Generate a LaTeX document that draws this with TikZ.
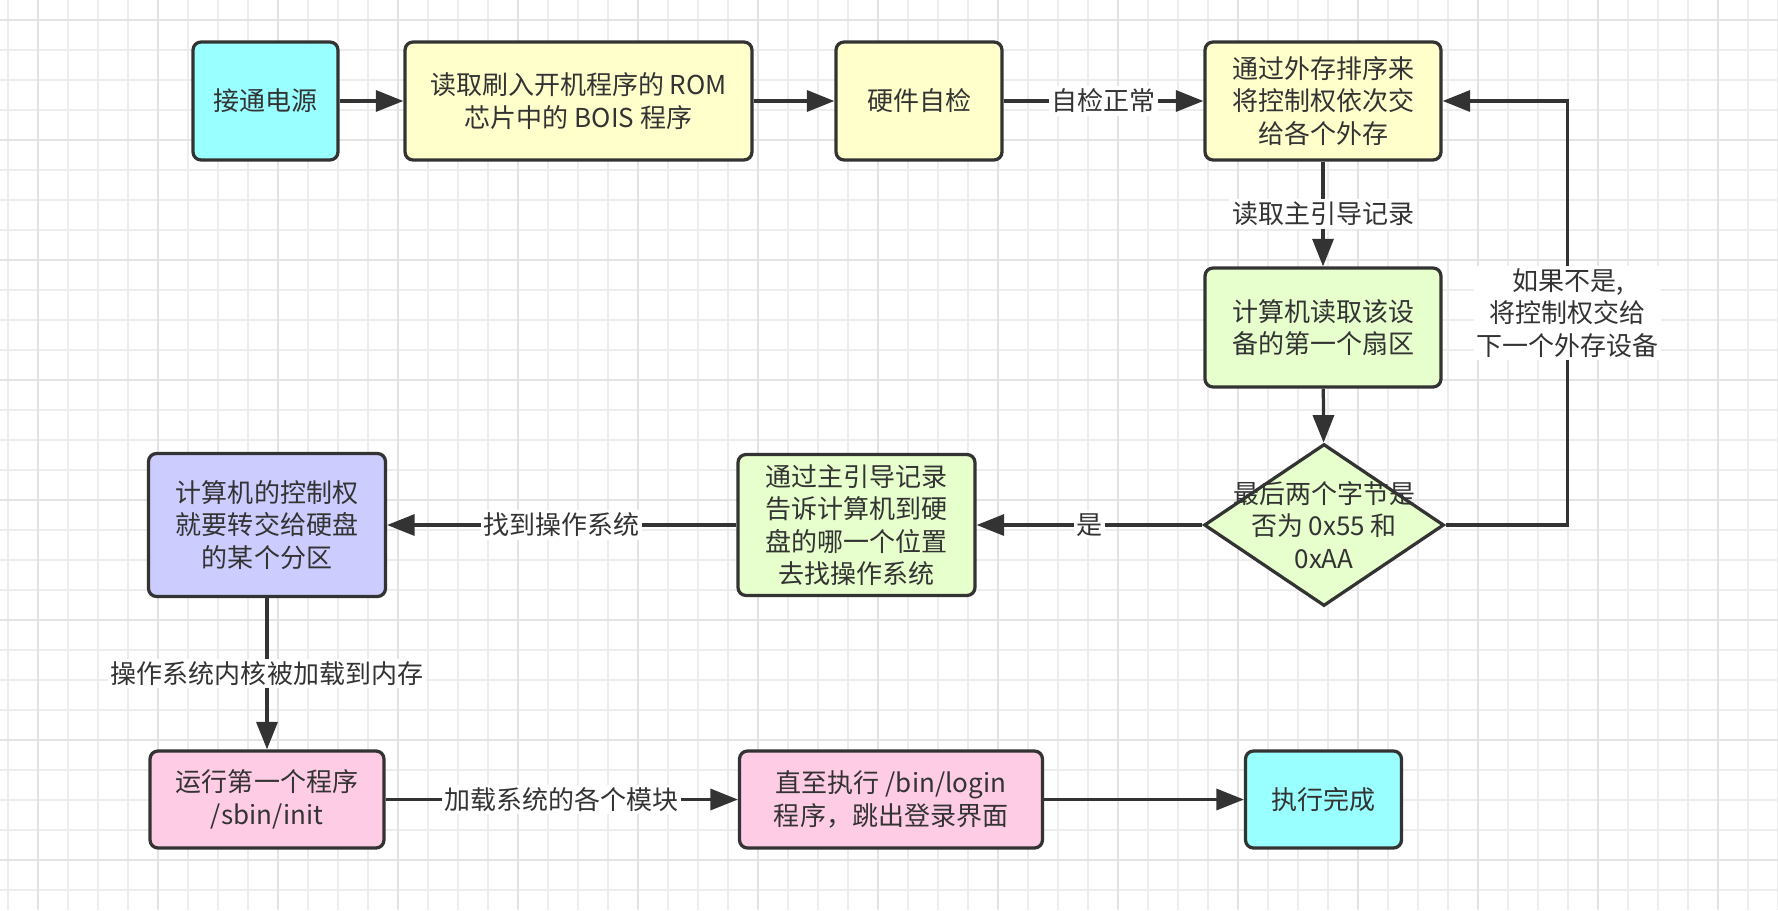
\documentclass[tikz,border=0pt]{standalone}
\usepackage{fontspec}
\newfontfamily\cjk{Noto Sans CJK SC}
\usepackage{xcolor}
\usetikzlibrary{arrows.meta,positioning,shapes.geometric}

\definecolor{ink}{HTML}{333333}
\definecolor{boxcyan}{HTML}{99FFFF}
\definecolor{boxyellow}{HTML}{FFFFCC}
\definecolor{boxgreen}{HTML}{E6FFCC}
\definecolor{boxblue}{HTML}{CCCCFF}
\definecolor{boxpink}{HTML}{FFCCE6}

\begin{document}
\begin{tikzpicture}[x=0.02cm,y=-0.02cm,
  font=\cjk\fontsize{14.8}{18.5}\selectfont,text=ink,
  box/.style={draw=ink,line width=0.065cm,rounded corners=0.16cm,align=center,inner sep=0pt},
  decision/.style={diamond,draw=ink,line width=0.065cm,fill=boxgreen,inner sep=0pt},
  flow/.style={draw=ink,line width=0.065cm,-{Triangle[length=0.55cm,width=0.42cm]}},
  tag/.style={fill=white,inner sep=1.5pt},
  gridminor/.style={draw=black!7,line width=0.03cm},
  gridmajor/.style={draw=black!11,line width=0.05cm}]
  \useasboundingbox (0,0) rectangle (1778,910);
  % background grid
  \fill[white] (0,0) rectangle (1778,910);
  \foreach \x in {8,38,...,1778} \draw[gridminor] (\x,0) -- (\x,910);
  \foreach \y in {20,50,...,900} \draw[gridminor] (0,\y) -- (1778,\y);
  \foreach \x in {38,158,...,1778} \draw[gridmajor] (\x,0) -- (\x,910);
  \foreach \y in {20,140,...,900} \draw[gridmajor] (0,\y) -- (1778,\y);
  % boot steps, top row
  \node[box,fill=boxcyan,minimum width=2.9cm,minimum height=2.36cm] (power) at (265.5,101) {接通电源};
  \node[box,fill=boxyellow,minimum width=6.94cm,minimum height=2.36cm] (rom) at (578.5,101)
    {读取刷入开机程序的 ROM\\芯片中的 BOIS 程序};
  \node[box,fill=boxyellow,minimum width=3.32cm,minimum height=2.36cm] (selftest) at (919,101) {硬件自检};
  \node[box,fill=boxyellow,minimum width=4.72cm,minimum height=2.36cm] (order) at (1323,101)
    {通过外存排序来\\将控制权依次交\\给各个外存};
  % right column
  \node[box,fill=boxgreen,minimum width=4.72cm,minimum height=2.38cm] (sector) at (1323,327.5)
    {计算机读取该设\\备的第一个扇区};
  \node[decision,minimum width=4.8cm,minimum height=3.24cm,
    label={[align=center]center:最后两个字节是\\否为 0x55 和\\0xAA}] (check) at (1324,525) {};
  % middle row
  \node[box,fill=boxgreen,minimum width=4.74cm,minimum height=2.82cm] (mbr) at (856.5,525)
    {通过主引导记录\\告诉计算机到硬\\盘的哪一个位置\\去找操作系统};
  \node[box,fill=boxblue,minimum width=4.74cm,minimum height=2.86cm] (disk) at (267,525)
    {计算机的控制权\\就要转交给硬盘\\的某个分区};
  % bottom row
  \node[box,fill=boxpink,minimum width=4.68cm,minimum height=1.94cm] (init) at (267,799.5)
    {运行第一个程序\\/sbin/init};
  \node[box,fill=boxpink,minimum width=6.06cm,minimum height=1.94cm] (login) at (891,799.5)
    {直至执行 /bin/login\\程序，跳出登录界面};
  \node[box,fill=boxcyan,minimum width=3.12cm,minimum height=1.94cm] (done) at (1323.5,799.5) {执行完成};
  % connectors
  \draw[flow] (power) -- (rom);
  \draw[flow] (rom) -- (selftest);
  \draw[flow] (selftest) -- node[tag] {自检正常} (order);
  \draw[flow] (order) -- node[tag] {读取主引导记录} (sector);
  \draw[flow] (sector) -- (check);
  \draw[flow] (check.east) -- ++(122,0) |- node[tag,pos=0.25,align=center]
    {如果不是,\\将控制权交给\\下一个外存设备} (order.east);
  \draw[flow] (check) -- node[tag] {是} (mbr);
  \draw[flow] (mbr) -- node[tag] {找到操作系统} (disk);
  \draw[flow] (disk) -- node[tag] {操作系统内核被加载到内存} (init);
  \draw[flow] (init) -- node[tag] {加载系统的各个模块} (login);
  \draw[flow] (login) -- (done);
\end{tikzpicture}
\end{document}
